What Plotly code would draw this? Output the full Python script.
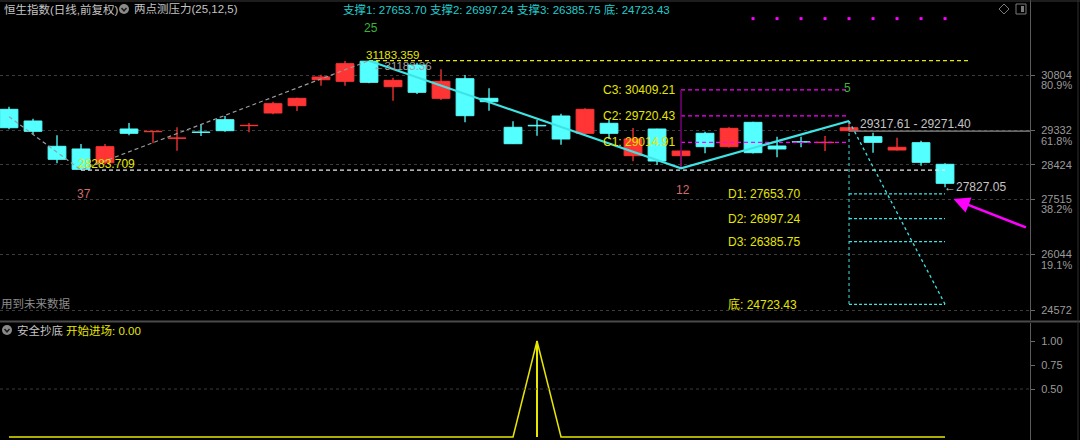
import plotly.graph_objects as go

W, H = 1080, 440
PLOT_R = 1030  # right edge of plotting area in pixels

# ---------------- data ----------------
idx = list(range(40))
opens = [29894, 29584, 28913, 28842, 28478, 29372, 29300, 29125, 29292, 29619,
         29460, 29796, 29990, 30679, 30637, 31170, 30494, 31069, 30186, 30706,
         30186, 29417, 29470, 29717, 29258, 29523, 28664, 29372, 28664, 29258,
         28903, 29549, 28921, 29035, 29010, 29327, 29168, 28815, 29009, 28436]
highs = [29963, 29645, 29205, 28974, 28974, 29531, 29320, 29417, 29486, 29717,
         29531, 30096, 30200, 30812, 31175, 31183.359, 30732, 31130, 30955, 30804,
         30451, 29576, 29611, 29778, 29921, 29611, 29398, 29380, 28800, 29300,
         29417, 29565, 29168, 29168, 29186, 29584, 29274, 29141, 29062, 28462]
lows = [29364, 29231, 28462, 28283.709, 28440, 29205, 28993, 28796, 29186, 29300,
        29284, 29762, 29849, 30520, 30520, 30584, 30122, 30300, 30141, 29550,
        29857, 28975, 29194, 28956, 29240, 29107, 28515, 28417, 28330, 28727,
        28880, 28720, 28621, 28887, 28788, 29300, 28744, 28800, 28399, 27827.05]
closes = [29406, 29311, 28568, 28303, 28903, 29258, 29310, 29135, 29282, 29327,
          29470, 30043, 30186, 30751, 31104, 30610, 30663, 30345, 30637, 29725,
          30096, 28982, 29455, 29107, 29894, 29258, 29107, 28523, 28788, 28903,
          29390, 28744, 28842, 29025, 29020, 29406, 29019, 28887, 28489, 27932]

# swing structure
gray_leg_idx = [0, 3, 15]
gray_leg_val = [29700, 28283.709, 31183.359]
cyan_leg_idx = [15, 28, 35]
cyan_leg_val = [31183.359, 28330, 29584]
proj_idx = [35, 39]

high_level = 31183.359
low_level = 28283.709
c_names = ["C1", "C2", "C3"]
c_levels = [29014.91, 29720.43, 30409.21]
d_names = ["D1", "D2", "D3"]
d_levels = [27653.70, 26997.24, 26385.75]
bottom_level = 24723.43
range_text = "29317.61 - 29271.40"
range_level = 29317.61
last_low = 27827.05
bar_counts = ["37", "25", "12", "5"]

signal_idx = [31, 32, 33, 34, 35, 36, 37, 38, 39]
signal_level = 32300

ytick_vals = [30804, 29332, 28424, 27515, 26044, 24572]
ytick_text = ["30804", "29332", "28424", "27515", "26044", "24572"]
ytick_pct = ["80.9%", "61.8%", "", "38.2%", "19.1%", ""]

entry_vals = [0, 0, 0, 0, 0, 0, 0, 0, 0, 0,
              0, 0, 0, 0, 0, 0, 0, 0, 0, 0,
              0, 0, 1, 0, 0, 0, 0, 0, 0, 0,
              0, 0, 0, 0, 0, 0, 0, 0, 0, 0]
lower_ticks = [1.0, 0.75, 0.5]
lower_ticktext = ["1.00", "0.75", "0.50"]

# ---------------- styles ----------------
BG = "#000000"
RED = "#ff3434"
CYAN = "#54ffff"
CYAN_LINE = "#3fe3e3"
YELLOW = "#e6e600"
GRAY_T = "#c4c4c4"
AX_T = "#9a9a9a"
GREEN = "#3cb43c"
PINK = "#d46a6a"
MAGENTA = "#ff00ff"
FONT = "Liberation Sans, Arial, Noto Sans CJK SC, sans-serif"
SHORT_DASH = "4px,3px"

X_RANGE = [-0.375, 42.54]
Y_RANGE = [24307, 32793]
Y2_RANGE = [-0.03125, 1.1875]

fig = go.Figure()

up = [i for i in idx if closes[i] >= opens[i]]
dn = [i for i in idx if closes[i] < opens[i]]


def wick_xy(ids):
    xs, ys = [], []
    for i in ids:
        xs += [i, i, None]
        ys += [lows[i], highs[i], None]
    return xs, ys


for ids, col in ((up, RED), (dn, CYAN)):
    fig.add_trace(go.Bar(
        x=ids,
        y=[abs(closes[i] - opens[i]) for i in ids],
        base=[min(opens[i], closes[i]) for i in ids],
        width=0.74, marker=dict(color=col, line=dict(color=col, width=1)),
        xaxis="x", yaxis="y", hoverinfo="skip"))
    wx, wy = wick_xy(ids)
    fig.add_trace(go.Scatter(x=wx, y=wy, mode="lines",
                             line=dict(color=col, width=1.3),
                             xaxis="x", yaxis="y", hoverinfo="skip"))


def seg(x, y, color, width=1.0, dash="solid", axis=("x", "y")):
    fig.add_trace(go.Scatter(x=x, y=y, mode="lines",
                             line=dict(color=color, width=width, dash=dash),
                             xaxis=axis[0], yaxis=axis[1], hoverinfo="skip"))


# high / low reference lines
seg([15, 40], [high_level, high_level], YELLOW, 1.2, SHORT_DASH)
seg([3, 39], [low_level, low_level], "#e8e8e8", 1.2, SHORT_DASH)
seg([35, X_RANGE[1]], [range_level, range_level], "#8a8a8a", 1.2)

# C levels (magenta) and vertical
for lv in c_levels:
    seg([28, 35], [lv, lv], MAGENTA, 1.2, SHORT_DASH)
seg([28, 28], [c_levels[2], cyan_leg_val[1]], "#7a007a", 1.5)

# D levels (cyan dotted)
for lv in d_levels + [bottom_level]:
    seg([35, 39], [lv, lv], CYAN_LINE, 1.2, "3px,2px")
seg([35, 35], [cyan_leg_val[2], bottom_level], CYAN_LINE, 1.0, "dot")
seg(proj_idx, [cyan_leg_val[2], bottom_level], CYAN_LINE, 1.3, "dot")

# zigzag
seg(gray_leg_idx, gray_leg_val, "#9a9a9a", 1.2, SHORT_DASH)
seg(cyan_leg_idx, cyan_leg_val, CYAN_LINE, 2.2)

# signal dots
fig.add_trace(go.Scatter(x=signal_idx, y=[signal_level] * len(signal_idx), mode="markers",
                         marker=dict(color=MAGENTA, size=3, symbol="square"),
                         xaxis="x", yaxis="y", hoverinfo="skip"))

# lower panel
fig.add_trace(go.Bar(x=idx, y=entry_vals, width=0.06, marker=dict(color=YELLOW, line=dict(width=0)),
                     xaxis="x2", yaxis="y2", hoverinfo="skip"))
seg(idx, entry_vals, YELLOW, 1.5, "solid", ("x2", "y2"))
seg([X_RANGE[0], X_RANGE[1]], [lower_ticks[2], lower_ticks[2]], "#3a3a3a", 1, "dot", ("x2", "y2"))

# ---------------- annotations ----------------
ann = []


def txt(x, y, s, color, size=12, xanchor="left", xshift=0, yshift=0, xref="x", yref="y"):
    ann.append(dict(x=x, y=y, xref=xref, yref=yref, text=s, showarrow=False,
                    xanchor=xanchor, yanchor="middle", xshift=xshift, yshift=yshift,
                    font=dict(family=FONT, size=size, color=color)))


def ptxt(px, py, s, color, size=12, xanchor="left"):
    txt(px / PLOT_R, 1 - py / H, s, color, size, xanchor, xref="paper", yref="paper")


ptxt(2, 9, "恒生指数(日线,前复权)", GRAY_T, 11.5)
ptxt(132, 9, "两点测压力(25,12,5)", GRAY_T, 11.5)
header = " ".join([f"支撑{k + 1}: {v:.2f}" for k, v in enumerate(d_levels)]) + f" 底: {bottom_level:.2f}"
ptxt(341, 9, header, "#22cccc", 11.5)
ptxt(-1, 303, "用到未来数据", "#8c8c8c", 11.5)
ptxt(15, 330, "安全抄底", GRAY_T, 11.5)
ptxt(64, 330, f"开始进场: {entry_vals[-1]:.2f}", YELLOW, 11.5)

txt(15, high_level, f"{high_level:.3f}", YELLOW, 11.5, "left", -5, 6)
txt(15, high_level, f"←{high_level:.2f}", "#a0a0a0", 11.5, "left", 2, -5)
txt(3, low_level, f"{low_level:.3f}", YELLOW, 12, "left", -5, 6)
txt(3, low_level, bar_counts[0], PINK, 12, "center", 3, -24)
txt(15, high_level, bar_counts[1], GREEN, 12, "center", 2, 33)
txt(28, cyan_leg_val[1], bar_counts[2], PINK, 12, "center", 2, -22)
txt(35, c_levels[2], bar_counts[3], GREEN, 12, "center", -2, 2)

for n, lv in zip(c_names, c_levels):
    txt(28, lv, f"{n}: {lv:.2f}", YELLOW, 12, "right", -4, 0)
for n, lv in zip(d_names, d_levels):
    txt(30, lv, f"{n}: {lv:.2f}", YELLOW, 12, "left", -3, 0)
txt(30, bottom_level, f"底: {bottom_level:.2f}", YELLOW, 12, "left", -3, 0)
txt(35, range_level, range_text, GRAY_T, 12, "left", 9, 7)
txt(39, last_low, f"←{last_low:.2f}", GRAY_T, 12, "left", -3, 0)

for v, p in zip(ytick_vals, ytick_pct):
    if p:
        ann.append(dict(x=1, y=v, xref="paper", yref="y", text=p, showarrow=False,
                        xanchor="left", yanchor="middle", xshift=9, yshift=-10,
                        font=dict(family=FONT, size=11, color=AX_T)))

# magenta arrow pointing to the 38.2% level near the last bar
ann.append(dict(x=idx[-1] + 0.35, y=ytick_vals[3], xref="x", yref="y", ax=74, ay=29,
                showarrow=True, arrowhead=2, arrowsize=1.3, arrowwidth=2.5,
                arrowcolor=MAGENTA, text=""))

# ---------------- shapes (frame & icons) ----------------
def P(px, py):
    return px / PLOT_R, 1 - py / H


shapes = []
x0, y0 = P(0, 1); x1, _ = P(W, 1)
shapes.append(dict(type="line", xref="paper", yref="paper", x0=x0, x1=x1, y0=y0, y1=y0,
                   line=dict(color="#3a3a3a", width=1)))
x0, y0 = P(0, 321.5); x1, _ = P(W, 321.5)
shapes.append(dict(type="line", xref="paper", yref="paper", x0=x0, x1=x1, y0=y0, y1=y0,
                   line=dict(color="#4a4a4a", width=2)))
xa, _ = P(1078, 0)
shapes.append(dict(type="line", xref="paper", yref="paper", x0=xa, x1=xa, y0=0, y1=1,
                   line=dict(color="#2e2e2e", width=1)))
# circle icons
for cx, cy in ((124, 9), (7, 330)):
    a, b = P(cx - 5, cy - 5); c, d = P(cx + 5, cy + 5)
    shapes.append(dict(type="circle", xref="paper", yref="paper", x0=a, y0=d, x1=c, y1=b,
                       fillcolor="#8a8a8a", line=dict(width=0)))
    p1 = P(cx - 2.5, cy - 1); p2 = P(cx, cy + 1.8); p3 = P(cx + 2.5, cy - 1)
    shapes.append(dict(type="path", xref="paper", yref="paper",
                       path=f"M {p1[0]} {p1[1]} L {p2[0]} {p2[1]} L {p3[0]} {p3[1]}",
                       line=dict(color="#1a1a1a", width=1.5)))
# diamond icon
q = [P(1004, 4), P(1009, 9), P(1004, 14), P(999, 9)]
shapes.append(dict(type="path", xref="paper", yref="paper",
                   path="M " + " L ".join(f"{a} {b}" for a, b in q) + " Z",
                   line=dict(color="#7a7a7a", width=1)))
a, b = P(1016, 4); c, d = P(1026, 14)
shapes.append(dict(type="rect", xref="paper", yref="paper", x0=a, y0=d, x1=c, y1=b,
                   line=dict(color="#7a7a7a", width=1)))
a, b = P(1021, 6); c, d = P(1024, 12)
shapes.append(dict(type="rect", xref="paper", yref="paper", x0=a, y0=d, x1=c, y1=b,
                   fillcolor="#7a7a7a", line=dict(width=0)))

MAIN_DOM = [(H - 320) / H, 1]
LOW_DOM = [0, (H - 323) / H]

axis_common = dict(showgrid=False, zeroline=False, showticklabels=False, ticks="",
                   showline=False, fixedrange=True)

fig.update_layout(
    width=W, height=H, paper_bgcolor=BG, plot_bgcolor=BG,
    margin=dict(l=0, r=W - PLOT_R, t=0, b=0, autoexpand=False),
    showlegend=False, barmode="overlay", bargap=0,
    xaxis=dict(domain=[0, 1], range=X_RANGE, anchor="y", **axis_common),
    xaxis2=dict(domain=[0, 1], range=X_RANGE, anchor="y2", **axis_common),
    yaxis=dict(domain=MAIN_DOM, range=Y_RANGE, anchor="x", side="right",
               tickvals=ytick_vals, ticktext=ytick_text, ticks="outside", ticklen=4,
               tickcolor="#6a6a6a", showline=True, linecolor="#5a5a5a", linewidth=1,
               showgrid=True, gridcolor="#3c3c3c", griddash="dot", gridwidth=1,
               zeroline=False, ticklabelstandoff=4,
               tickfont=dict(family=FONT, size=11, color=AX_T), fixedrange=True),
    yaxis2=dict(domain=LOW_DOM, range=Y2_RANGE, anchor="x2", side="right",
                tickvals=lower_ticks, ticktext=lower_ticktext, ticks="outside", ticklen=4,
                tickcolor="#6a6a6a", showline=True, linecolor="#5a5a5a", linewidth=1,
                showgrid=False, zeroline=False, ticklabelstandoff=4,
                tickfont=dict(family=FONT, size=11, color=AX_T), fixedrange=True),
    annotations=ann, shapes=shapes,
)

fig.write_html(
    "out.html",
    config={"displayModeBar": False, "staticPlot": True},
    post_script="document.body.style.margin='0';document.body.style.padding='0';"
                "document.body.style.overflow='hidden';document.body.style.background='#000';",
)
